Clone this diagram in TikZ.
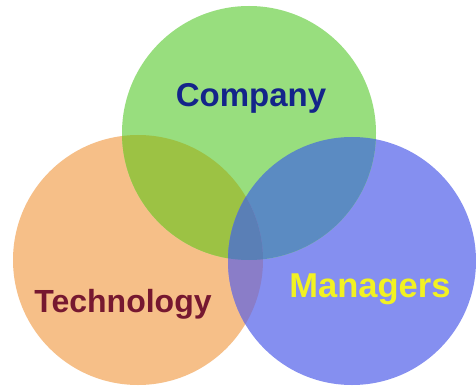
\documentclass[tikz,border=0pt]{standalone}
\usepackage{fontspec}
\setmainfont{Liberation Sans}
\definecolor{cgreen}{HTML}{98DE7E}
\definecolor{corange}{HTML}{F6BF88}
\definecolor{cblue}{HTML}{858FF0}
\definecolor{cgo}{HTML}{9CC244}
\definecolor{cgb}{HTML}{5B8BC2}
\definecolor{cob}{HTML}{8A7DC8}
\definecolor{cgob}{HTML}{5A7FB6}
\definecolor{tnavy}{HTML}{14248A}
\definecolor{tmaroon}{HTML}{761830}
\definecolor{tyellow}{HTML}{F2F222}
\begin{document}
\begin{tikzpicture}[x=1pt,y=1pt,
  lbl/.style={font=\bfseries\fontsize{32}{36}\selectfont, anchor=base, inner sep=0pt}]
\useasboundingbox (0,0) rectangle (476,386);
\fill[white] (0,0) rectangle (476,386);
\def\Gc{(249,253) circle (127)}
\def\Oc{(138,126) circle (125)}
\def\Bc{(352,125) circle (124)}
\fill[corange] \Oc;
\fill[cblue] \Bc;
\fill[cgreen] \Gc;
\begin{scope}\clip \Gc; \fill[cgo] \Oc; \end{scope}
\begin{scope}\clip \Gc; \fill[cgb] \Bc; \end{scope}
\begin{scope}\clip \Oc; \fill[cob] \Bc; \end{scope}
\begin{scope}\clip \Gc; \clip \Oc; \fill[cgob] \Bc; \end{scope}
\node[lbl, text=tnavy, font=\bfseries\fontsize{33}{36}\selectfont] (company) at (251,279) {Company};
\node[lbl, text=tmaroon] (technology) at (123,74) {Technology};
\node[lbl, text=tyellow, font=\bfseries\fontsize{34.5}{38}\selectfont] (managers) at (370,89) {Managers};
\end{tikzpicture}
\end{document}
